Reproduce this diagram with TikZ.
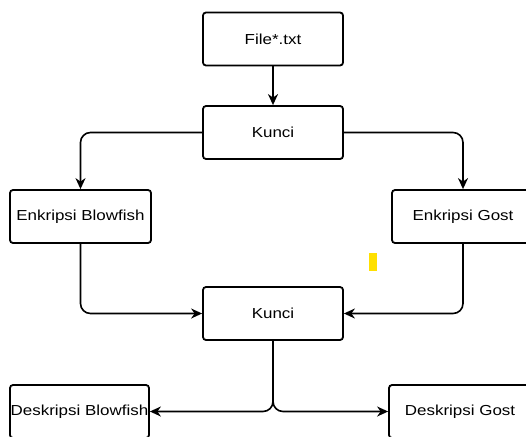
\documentclass[tikz,border=0pt]{standalone}
\usepackage{fontspec}
\setmainfont{Liberation Sans}
\usetikzlibrary{arrows.meta}
\newcommand{\wtxt}[1]{\scalebox{1.17}[1]{#1}}
\tikzset{
  boxnode/.style={draw=black, line width=1.8pt, rounded corners=3pt, minimum width=140pt, minimum height=53pt, inner sep=0pt, font=\fontsize{14.5}{16}\selectfont, fill=white},
  conn/.style={draw=black, line width=1.6pt, rounded corners=10pt, -{Stealth[length=11pt,width=10pt,inset=3.5pt]}}
}
\begin{document}
\begin{tikzpicture}[x=1pt,y=-1pt]
\useasboundingbox (0,0) rectangle (526,436);
\clip (0,0) rectangle (526,436);
\node[boxnode] (file) at (273,39) {\wtxt{File*.txt}};
\node[boxnode] (k1) at (273,132.5) {\wtxt{Kunci}};
\node[boxnode, minimum width=141pt] (eb) at (80.5,216.5) {\wtxt{Enkripsi Blowfish}};
\node[boxnode, minimum width=142pt] (eg) at (463,216.5) {\wtxt{Enkripsi Gost}};
\node[boxnode] (k2) at (273,313.5) {\wtxt{Kunci}};
\node[boxnode, minimum width=139pt] (db) at (79.5,411.5) {\wtxt{Deskripsi Blowfish}};
\node[boxnode, minimum width=142pt] (dg) at (460,411.5) {\wtxt{Deskripsi Gost}};
\fill[fill={rgb,255:red,255;green,224;blue,0}] (369,253) rectangle (377,271);
\draw[conn] (file) -- (k1);
\draw[conn] (k1.west) -| (eb.north);
\draw[conn] (k1.east) -| (eg.north);
\draw[conn] (eb.south) |- (k2.west);
\draw[conn] (eg.south) |- (k2.east);
\draw[conn] (k2.south) |- (db.east);
\draw[conn] (k2.south) |- (dg.west);
\end{tikzpicture}
\end{document}
